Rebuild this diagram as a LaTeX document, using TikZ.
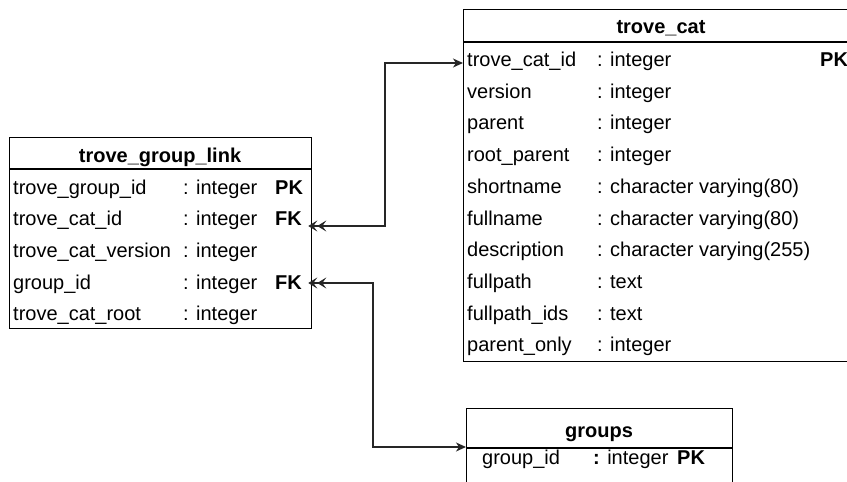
\documentclass[tikz,border=0pt]{standalone}
\usepackage{fontspec}
\setmainfont{Liberation Sans}
\usetikzlibrary{arrows.meta}
\begin{document}
\begin{tikzpicture}[x=1pt,y=-1pt,
  font=\fontsize{20}{24}\selectfont,
  field/.style={anchor=base west, inner sep=0pt},
  keyf/.style={anchor=base west, inner sep=0pt, font=\fontsize{20}{24}\selectfont\bfseries},
  head/.style={anchor=base, inner sep=0pt, font=\fontsize{20}{24}\selectfont\bfseries},
  tbl/.style={draw=black, line width=1.3pt, inner sep=0pt, anchor=north west},
  sep/.style={draw=black, line width=1.3pt},
  rel/.style={draw=black!85, line width=1.3pt, shorten <=-4pt,
    arrows={Stealth[length=9pt,width=11pt,inset=4pt,line width=0.8pt]Stealth[length=9pt,width=11pt,inset=4pt,line width=0.8pt]-Stealth[length=10pt,width=9pt,inset=3pt]}}]
\useasboundingbox (0,0) rectangle (847,482);
\clip (0,0) rectangle (847,482);

% trove_group_link
\node[tbl, minimum width=302pt, minimum height=191pt] (tgl) at (9,137) {};
\draw[sep] (tgl.west |- 0,169) -- (tgl.east |- 0,169);
\node[head] (tglh) at (160,162) {trove\_group\_link};
\foreach \n/\t [count=\i from 0] in {trove\_group\_id/integer, trove\_cat\_id/integer, trove\_cat\_version/integer, group\_id/integer, trove\_cat\_root/integer}{
  \node[field] (tgln\i) at ({13},{194+31.7*\i}) {\n};
  \node[field] (tglt\i) at ({183},{194+31.7*\i}) {: \t};
}
\node[keyf] (tglk0) at (275,194) {PK};
\node[keyf] (tglk1) at (275,225.7) {FK};
\node[keyf] (tglk3) at (275,289.1) {FK};

% trove_cat
\node[tbl, minimum width=396pt, minimum height=352pt] (tc) at (463,9) {};
\draw[sep] (tc.west |- 0,42) -- (tc.east |- 0,42);
\node[head] (tch) at (661,33) {trove\_cat};
\foreach \n/\t [count=\i from 0] in {trove\_cat\_id/integer, version/integer, parent/integer, root\_parent/integer, shortname/character varying(80), fullname/character varying(80), description/character varying(255), fullpath/text, fullpath\_ids/text, parent\_only/integer}{
  \node[field] (tcn\i) at ({467},{66.5+31.7*\i}) {\n};
  \node[field] (tct\i) at ({597},{66.5+31.7*\i}) {: \t};
}
\node[keyf] (tck0) at (820,66.5) {PK};

% groups
\node[tbl, minimum width=266pt, minimum height=100pt] (gr) at (466,408) {};
\draw[sep] (gr.west |- 0,448) -- (gr.east |- 0,448);
\node[head] (grh) at (599,437) {groups};
\node[field] (grn0) at (482,464) {group\_id};
\node[field] (grt0) at (593,464) {\textbf{:} integer};
\node[keyf] (grk0) at (677,464) {PK};

% connectors
\coordinate (j1) at (385,0);
\coordinate (j2) at (373,0);
\draw[rel] (tgl.east |- 0,226) -- (j1 |- 0,226) |- (tc.west |- 0,63);
\draw[rel] (tgl.east |- 0,283) -- (j2 |- 0,283) |- (gr.west |- 0,447);
\end{tikzpicture}
\end{document}
